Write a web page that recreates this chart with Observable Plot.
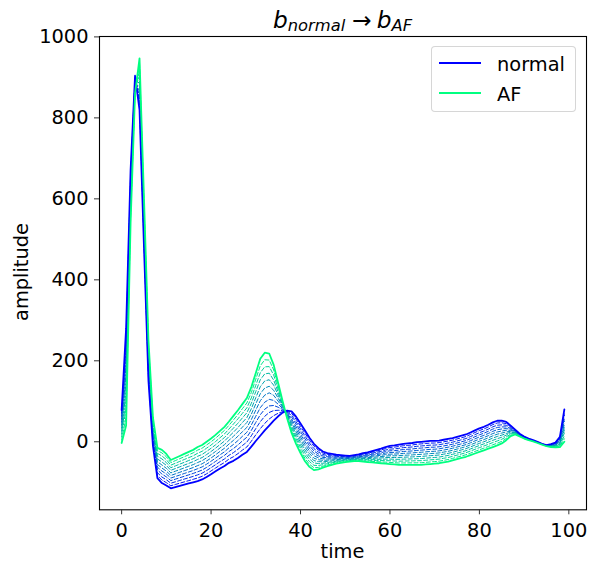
<!DOCTYPE html>
<html>
<head>
<meta charset="utf-8">
<script src="https://cdn.jsdelivr.net/npm/d3@7"></script>
<script src="https://cdn.jsdelivr.net/npm/@observablehq/plot@0.6"></script>
<style>
  html, body { margin: 0; padding: 0; background: #fff; }
  #wrap { position: relative; width: 589px; height: 562px; font-family: "DejaVu Sans", sans-serif; color: #000; overflow: hidden; }
  .abs { position: absolute; white-space: nowrap; line-height: 1; }
</style>
</head>
<body>
<div id="wrap">
  <div id="chart"></div>
  <div class="abs" id="title" style="left:99px; width:487px; top:8px; text-align:center; font-size:23.3px;">
    <span style="font-style:italic">b</span><span style="font-style:italic; font-size:0.7em; position:relative; top:3px;">normal</span><span style="margin:0 5px 0 7px;">→</span><span style="font-style:italic">b</span><span style="font-style:italic; font-size:0.7em; position:relative; top:3px;">AF</span>
  </div>
  <div class="abs" id="ylabel" style="left:22px; top:272px; font-size:19.4px; transform:translate(-50%,-50%) rotate(-90deg);">amplitude</div>
  <div class="abs" id="xlabel" style="left:99px; width:487px; top:542px; text-align:center; font-size:19.4px;">time</div>
  <div class="abs" id="legend" style="left:431px; top:46px; width:143px; height:64px; border:1px solid rgba(204,204,204,0.8); border-radius:4px; background:rgba(255,255,255,0.8); font-size:19.4px;"></div>
</div>
<script>
// ---- data ----
const timeSteps = d3.range(0, 100);
const normal = [78, 280, 670, 904, 820, 480, 150, -10, -90, -102,
  -108, -115, -112, -109, -106, -103, -100, -97, -93, -87,
  -80, -73, -66, -60, -52, -47, -40, -32, -25, -12,
  2, 15, 28, 40, 52, 63, 72, 77, 75, 62,
  45, 28, 10, -5, -16, -24, -28, -30, -32, -33,
  -34, -35, -33, -31, -28, -26, -23, -20, -17, -13,
  -10, -9, -7, -5, -4, -3, -1, 0, 1, 2,
  2, 3, 5, 7, 9, 12, 15, 18, 23, 28,
  33, 37, 42, 48, 52, 52, 49, 40, 30, 20,
  13, 8, 4, 0, -5, -8, -6, -2, 12, 80];
const af = [-3, 40, 540, 860, 947, 600, 250, 60, -15, -20,
  -30, -45, -40, -35, -30, -25, -20, -13, -8, 0,
  8, 17, 27, 37, 50, 64, 78, 93, 108, 135,
  170, 205, 220, 218, 190, 145, 100, 58, 22, -5,
  -28, -48, -62, -70, -68, -64, -60, -57, -54, -52,
  -50, -49, -48, -48, -49, -50, -51, -52, -53, -54,
  -55, -56, -57, -57, -57, -57, -57, -57, -56, -55,
  -54, -53, -51, -49, -46, -43, -40, -37, -33, -29,
  -25, -21, -17, -13, -9, -4, 4, 14, 18, 13,
  8, 4, 1, -3, -7, -11, -13, -14, -13, 0];
const seriesNames = ["normal", "AF"];
const xTicks = [0, 20, 40, 60, 80, 100];
const yTicks = [0, 200, 400, 600, 800, 1000];
const stepCount = 11; // transitions between normal and AF (10 intermediate curves)

// winter colormap
const winter = w => `rgb(0,${Math.round(255 * w)},${Math.round(255 * (1 - 0.5 * w))})`;

const rows = (vals) => timeSteps.map((t, i) => ({t, v: vals[i]}));

const marks = [];
for (let k = 1; k < stepCount; k++) {
  const w = k / stepCount;
  const vals = normal.map((n, i) => n + (af[i] - n) * w);
  marks.push(Plot.line(rows(vals), {x: "t", y: "v", stroke: winter(w), strokeWidth: 1, strokeDasharray: "4,2.2"}));
}
marks.push(Plot.line(rows(normal), {x: "t", y: "v", stroke: winter(0), strokeWidth: 1.8}));
marks.push(Plot.line(rows(af), {x: "t", y: "v", stroke: winter(1), strokeWidth: 1.8}));
marks.push(Plot.frame({stroke: "#000", strokeWidth: 1.1}));
marks.push(Plot.axisX({ticks: xTicks, tickSize: 5, tickPadding: 8.5, tickFormat: d => String(d), label: null, stroke: "#333"}));
marks.push(Plot.axisY({ticks: yTicks, tickSize: 5, tickPadding: 6, tickFormat: d => String(d), label: null, stroke: "#333"}));

const chart = Plot.plot({
  width: 589, height: 562,
  marginLeft: 99, marginRight: 3, marginTop: 36, marginBottom: 52.7,
  x: {domain: [-4.95, 103.95]},
  y: {domain: [-168, 1001]},
  style: {fontFamily: "DejaVu Sans, sans-serif", fontSize: "19.4px", color: "#000", background: "transparent"},
  marks
});
document.getElementById("chart").appendChild(chart);

// legend
const legend = document.getElementById("legend");
const legendColors = [winter(0), winter(1)];
seriesNames.forEach((name, i) => {
  const y = 15 + i * 29.5;
  const line = document.createElement("div");
  line.style.cssText = `position:absolute; left:7px; top:${y}px; width:42px; height:2px; background-color:${legendColors[i]};`;
  legend.appendChild(line);
  const lab = document.createElement("div");
  lab.className = "abs";
  lab.style.left = "65px";
  lab.style.top = `${y - 7}px`;
  lab.textContent = name;
  legend.appendChild(lab);
});
</script>
</body>
</html>
